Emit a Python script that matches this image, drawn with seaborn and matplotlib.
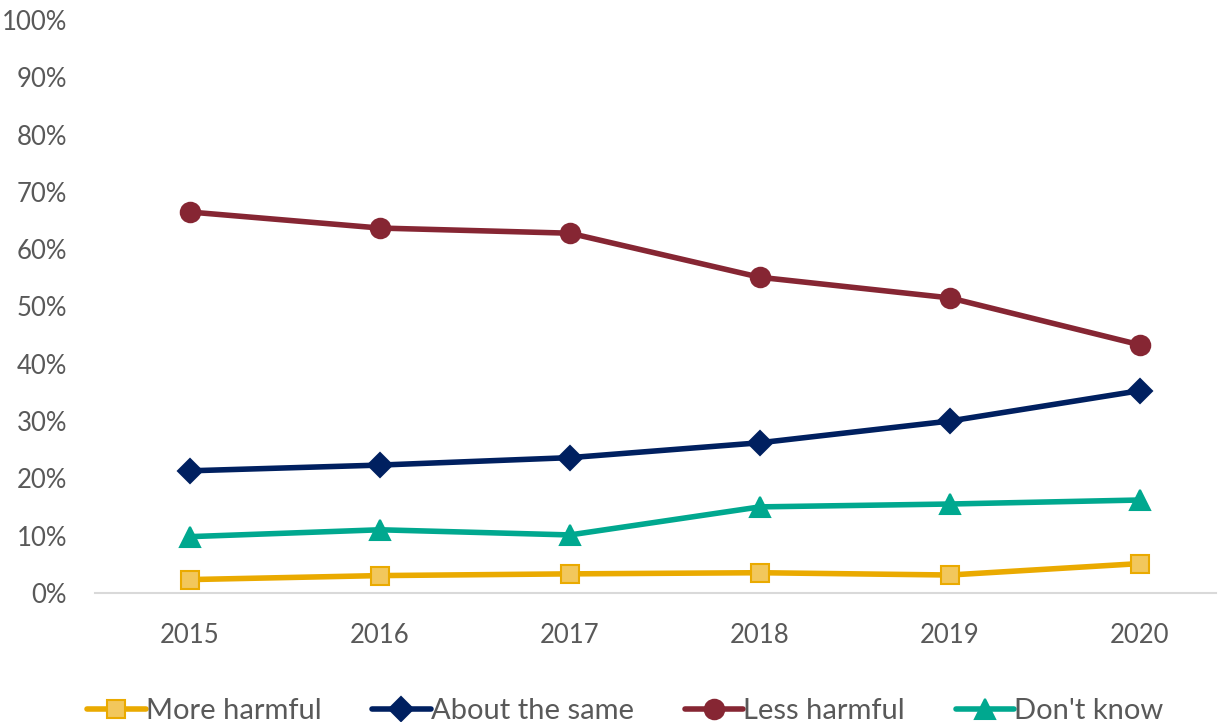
import pandas as pd
import matplotlib.pyplot as plt
import seaborn as sns
from matplotlib.ticker import PercentFormatter

years = ["2015", "2016", "2017", "2018", "2019", "2020"]
more_harmful = [2.3, 3.0, 3.3, 3.5, 3.1, 5.1]
about_same = [21.3, 22.3, 23.6, 26.2, 30.0, 35.3]
less_harmful = [66.5, 63.7, 62.8, 55.1, 51.5, 43.3]
dont_know = [9.8, 11.0, 10.1, 15.0, 15.5, 16.2]

series = {
    "More harmful": more_harmful,
    "About the same": about_same,
    "Less harmful": less_harmful,
    "Don't know": dont_know,
}

df = pd.DataFrame(
    [
        {"pos": i, "year": y, "series": name, "value": v}
        for name, vals in series.items()
        for i, (y, v) in enumerate(zip(years, vals))
    ]
)

sns.set_style("white")
plt.rcParams["font.family"] = ["Lato", "DejaVu Sans"]

colors = {
    "More harmful": "#EAAA00",
    "About the same": "#002060",
    "Less harmful": "#862633",
    "Don't know": "#00A88F",
}
markers = {
    "More harmful": "s",
    "About the same": "D",
    "Less harmful": "o",
    "Don't know": "^",
}
msizes = {"More harmful": 13, "About the same": 12, "Less harmful": 14, "Don't know": 14}

fig = plt.figure(figsize=(12.32, 7.22), dpi=100)
ax = fig.add_axes([0.077, 0.179, 0.91, 0.793])

for name in series:
    sub = df[df["series"] == name]
    face = "#F2C75C" if name == "More harmful" else colors[name]
    sns.lineplot(
        data=sub, x="pos", y="value", ax=ax, color=colors[name],
        linewidth=4, marker=markers[name], markersize=msizes[name],
        markerfacecolor=face, markeredgecolor=colors[name],
        markeredgewidth=1.5, label=name,
    )

ax.set_xlim(-0.5, 5.4)
ax.set_ylim(0, 100)
ax.set_yticks(range(0, 101, 10))
ax.yaxis.set_major_formatter(PercentFormatter(100, decimals=0))
ax.set_xticks(range(len(years)))
ax.set_xticklabels(years)
ax.set_xlabel("")
ax.set_ylabel("")

for s in ["top", "right", "left"]:
    ax.spines[s].set_visible(False)
ax.spines["bottom"].set_color("#D9D9D9")
ax.spines["bottom"].set_linewidth(1.5)
ax.tick_params(axis="both", length=0, labelsize=18.5, labelcolor="#595959")
ax.tick_params(axis="x", pad=22)
ax.tick_params(axis="y", pad=20)
ax.grid(False)

ax.legend(
    loc="lower center", bbox_to_anchor=(0.473, -0.275), ncol=4, frameon=False,
    fontsize=21, labelcolor="#595959", handlelength=2.0, handletextpad=0.0,
    columnspacing=1.75,
)

plt.savefig("out.png", dpi=100)
